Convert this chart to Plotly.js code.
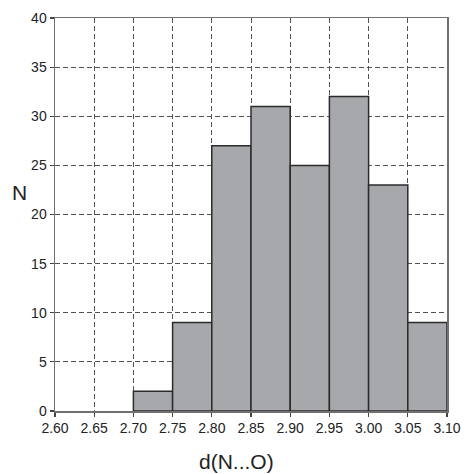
<!DOCTYPE html>
<html>
<head>
<meta charset="utf-8">
<script src="https://cdn.plot.ly/plotly-3.0.1.min.js"></script>
<style>html,body{margin:0;padding:0;background:#fff;}#chart{width:466px;height:474px;}</style>
</head>
<body>
<div id="chart"></div>
<script>
const binLo = [2.70, 2.75, 2.80, 2.85, 2.90, 2.95, 3.00, 3.05];
const binHi = [2.75, 2.80, 2.85, 2.90, 2.95, 3.00, 3.05, 3.10];
const counts = [2, 9, 27, 31, 25, 32, 23, 9];
const xTicks = [2.60, 2.65, 2.70, 2.75, 2.80, 2.85, 2.90, 2.95, 3.00, 3.05, 3.10];
const yTicks = [0, 5, 10, 15, 20, 25, 30, 35, 40];
const xLabel = 'd(N...O)';
const yLabel = 'N';

const centers = binLo.map((lo, i) => (lo + binHi[i]) / 2);
const widths = binLo.map((lo, i) => binHi[i] - lo);

const font = 'Liberation Sans, Arial, Helvetica, sans-serif';

const trace = {
  type: 'bar',
  x: centers,
  y: counts,
  width: widths,
  marker: {color: '#a7a8ac', line: {color: '#2b2b2b', width: 1.5}},
  hoverinfo: 'x+y'
};

const axisCommon = {
  showline: true, linecolor: '#707070', linewidth: 1.5, mirror: true,
  ticks: 'outside', ticklen: 4, tickwidth: 1.2, tickcolor: '#444',
  showgrid: true, gridcolor: '#555', gridwidth: 1, griddash: '5px,3px',
  zeroline: false,
  tickfont: {family: font, size: 14, color: '#222'}
};

const layout = {
  width: 466, height: 474,
  margin: {l: 55, r: 19, t: 18, b: 63},
  paper_bgcolor: '#fff', plot_bgcolor: '#fff',
  showlegend: false,
  bargap: 0,
  xaxis: Object.assign({}, axisCommon, {
    range: [xTicks[0], xTicks[xTicks.length - 1]],
    tickmode: 'array', tickvals: xTicks,
    ticktext: xTicks.map(v => v.toFixed(2)),
    ticklabelstandoff: 0
  }),
  yaxis: Object.assign({}, axisCommon, {
    range: [yTicks[0], yTicks[yTicks.length - 1]],
    tickmode: 'array', tickvals: yTicks,
    ticktext: yTicks.map(String),
    ticklabelstandoff: 0
  }),
  annotations: [
    {text: xLabel, xref: 'paper', yref: 'paper', x: 0.464, y: -0.128,
     xanchor: 'center', yanchor: 'middle', showarrow: false,
     font: {family: font, size: 21, color: '#222'}},
    {text: yLabel, xref: 'paper', yref: 'paper', x: -0.09, y: 0.557,
     xanchor: 'center', yanchor: 'middle', showarrow: false,
     font: {family: font, size: 21, color: '#222'}}
  ]
};

Plotly.newPlot('chart', [trace], layout, {staticPlot: true, displayModeBar: false});
</script>
</body>
</html>
